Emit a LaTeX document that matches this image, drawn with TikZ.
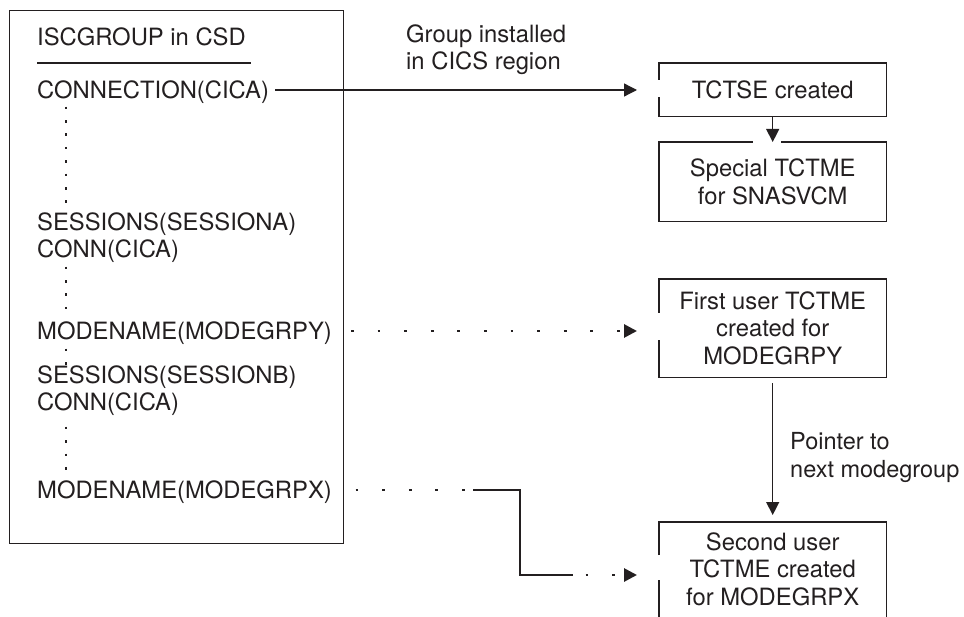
\documentclass[tikz,border=0pt]{standalone}
\usepackage{fontspec}
\setmainfont{TeX Gyre Heros}
\usetikzlibrary{arrows.meta}
\definecolor{ink}{RGB}{35,31,32}
\begin{document}
\begin{tikzpicture}[x=1pt,y=-1pt,
  every node/.style={text=ink, font=\fontsize{23.8}{27.5}\selectfont},
  lbl/.style={inner sep=0pt, text height=17pt, text depth=0pt, anchor=west},
  boxnode/.style={inner sep=0pt, minimum width=227pt, align=center, anchor=north west},
  edge/.style={draw=ink, line width=1.3pt},
  tip/.style={-{Triangle[length=13pt,width=13pt]}},
  dotrow/.style={draw=ink, line width=2.8pt, dash pattern=on 2.8pt off 23.8pt},
  vdots/.style={draw=ink, line width=2.6pt, dash pattern=on 2.6pt off 10.8pt},
]
\useasboundingbox (0,0) rectangle (964,617);

% left CSD box
\node[draw=ink, line width=1.3pt, minimum width=334pt, minimum height=533pt,
      anchor=north west, inner sep=0pt] (csd) at (9,10) {};
\node[lbl] (title) at (37,37) {ISCGROUP in CSD};
\draw[edge] (37,63) -- (251,63);
\node[lbl] (conn)  at (37,90)  {CONNECTION(CICA)};
\node[lbl] (sessa) at (37,222) {SESSIONS(SESSIONA)};
\node[lbl] (conna) at (37,249) {CONN(CICA)};
\node[lbl] (modey) at (37,331) {MODENAME(MODEGRPY)};
\node[lbl] (sessb) at (37,375) {SESSIONS(SESSIONB)};
\node[lbl] (connb) at (37,402) {CONN(CICA)};
\node[lbl] (modex) at (37,490) {MODENAME(MODEGRPX)};

% vertical ellipsis dots
\draw[vdots] (66,106.7) -- (66,203.5);
\draw[vdots] (66,266.7) -- (66,309.6);
\draw[vdots] (66,348.7) -- (66,364.8);
\draw[vdots] (66,426.7) -- (66,469.6);

% right boxes
\node[boxnode, minimum height=53pt] (tctse) at (659,63) {TCTSE created};
\node[boxnode, minimum height=79pt] (special) at (659,142) {Special TCTME\\for SNASVCM};
\node[boxnode, minimum height=98pt] (first) at (659,279) {First user TCTME\\created for\\MODEGRPY};
\node[boxnode, minimum height=94pt] (second) at (659,522) {Second user\\TCTME created\\for MODEGRPX};

% box borders (with gaps where arrows enter)
\draw[edge] ([yshift=-17pt]tctse.north west) -- (tctse.north west) -- (tctse.north east)
  -- (tctse.south east) -- (tctse.south west) -- ([yshift=19pt]tctse.south west);
\draw[edge] ([xshift=-20pt]special.north) -- (special.north west) -- (special.south west)
  -- (special.south east) -- (special.north east) -- ([xshift=8pt]special.north);
\draw[edge] ([yshift=-34pt]first.north west) -- (first.north west) -- (first.north east)
  -- (first.south east) -- (first.south west) -- ([yshift=37pt]first.south west);
\draw[edge] ([yshift=-33pt]second.north west) -- (second.north west) -- (second.north east)
  -- ([yshift=-3pt]second.south east);
\draw[edge] ([yshift=-58pt]second.north west) -- ([yshift=-3pt]second.south west);

% labels
\node[anchor=west, align=left, inner sep=0pt] (grp) at (406,49.6) {Group installed\\in CICS region};
\node[anchor=west, align=left, inner sep=0pt, font=\fontsize{23.5}{27.5}\selectfont] (ptr) at (790,457.4) {Pointer to\\next modegroup};

% connectors
\draw[edge, tip] ([xshift=6pt]conn.east) -- ([xshift=-22pt]tctse.west |- conn.east);
\draw[edge, tip] (tctse.south) -- (special.north);
\draw[edge, tip] ([yshift=-6pt]first.south) -- ([yshift=7pt]second.north);

\coordinate (ystart) at (351,331);
\draw[dotrow, tip] (ystart) -- ([xshift=-22pt]first.west |- ystart);

\coordinate (xs) at (355.6,490);
\coordinate (xe) at (466,490);
\coordinate (xa) at (473,490);
\coordinate (xb) at (520,490);
\coordinate (xc) at (520,575);
\coordinate (xd) at (573,575);
\coordinate (xf) at (585.6,575);
\draw[dotrow] (xs) -- (xe);
\draw[edge] (xa) -- (xb) -- (xc) -- (xd);
\draw[dotrow, tip] (xf) -- ([xshift=-22pt]second.west |- xf);
\end{tikzpicture}
\end{document}
